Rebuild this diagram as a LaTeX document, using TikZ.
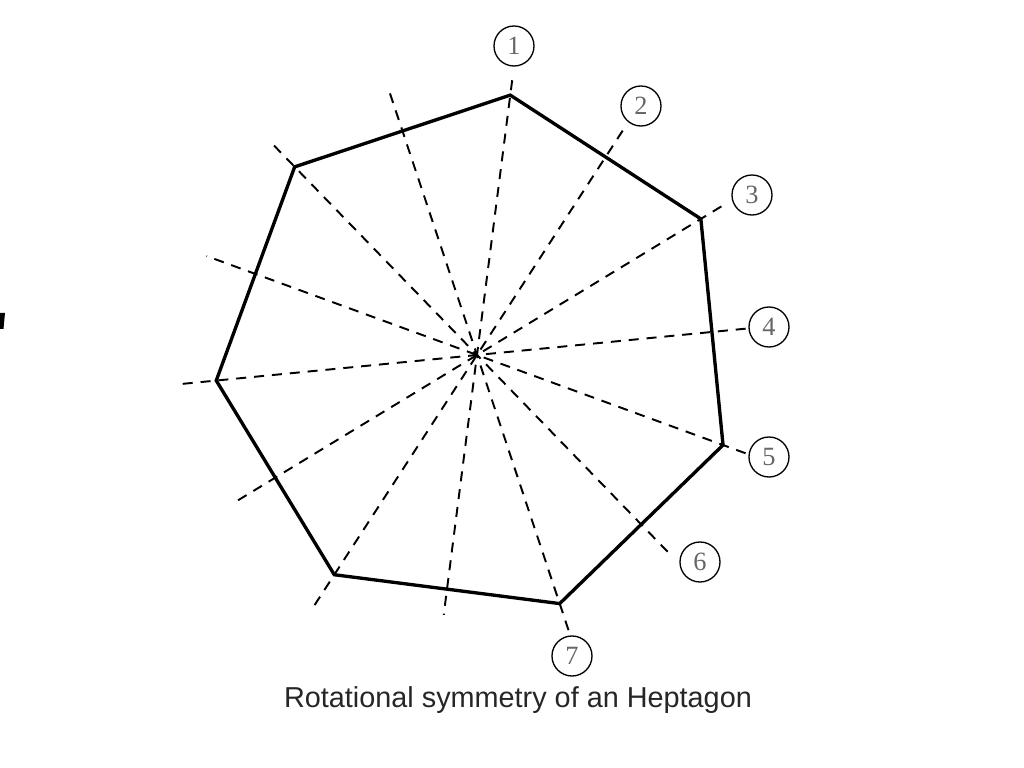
\documentclass[tikz,border=0pt]{standalone}
\usepackage{fontspec}
\setmainfont{Liberation Serif}
\setsansfont{Liberation Sans}
\begin{document}
\begin{tikzpicture}
  \tikzstyle{vertex}=[coordinate]
  \tikzstyle{axisend}=[coordinate]
  \tikzstyle{axisline}=[draw, line width=1.1pt, dash pattern=on 5.7pt off 4.5pt]
  \tikzstyle{rim}=[draw, line width=1.9pt, line join=miter]
  \tikzstyle{numbox}=[circle, draw, line width=0.75pt, minimum size=0.8cm, inner sep=0pt,
                      text=black!60, font=\fontsize{15}{15}\selectfont]
  \useasboundingbox (-9.54,-8.26) rectangle (10.94,7.10);
  \node[vertex] (C) at (0,0) {};
  % heptagon corners
  \node[vertex] (H1) at (82.7:5.24)   {};
  \node[vertex] (H3) at (31.3:5.24)   {};
  \node[vertex] (H5) at (-20.1:5.24)  {};
  \node[vertex] (H7) at (-71.6:5.24)  {};
  \node[vertex] (HA) at (-123.0:5.24) {};
  \node[vertex] (HB) at (-174.4:5.24) {};
  \node[vertex] (HC) at (134.1:5.24)  {};
  % axis ends
  \node[axisend] (O1) at (82.7:5.54)   {};
  \node[axisend] (I1) at (262.7:5.24)  {};
  \node[axisend] (O2) at (57.0:5.35)   {};
  \node[axisend] (I2) at (237.0:6.0)   {};
  \node[axisend] (O3) at (31.3:5.72)   {};
  \node[axisend] (I3) at (211.3:5.64)  {};
  \node[axisend] (O4) at (5.6:5.40)    {};
  \node[axisend] (I4) at (185.6:5.92)  {};
  \node[axisend] (O5) at (-20.1:5.72)  {};
  \node[axisend] (I5) at (159.9:5.76)  {};
  \node[axisend] (O6) at (-45.9:5.48)  {};
  \node[axisend] (I6) at (134.1:5.90)  {};
  \node[axisend] (O7) at (-71.6:5.80)  {};
  \node[axisend] (I7) at (108.4:5.62)  {};
  % axes
  \draw[axisline] (O1) -- (I1);
  \draw[axisline] (O2) -- (I2);
  \draw[axisline] (O3) -- (I3);
  \draw[axisline] (O4) -- (I4);
  \draw[axisline] (O5) -- (I5);
  \draw[axisline] (O6) -- (I6);
  \draw[axisline] (O7) -- (I7);
  % heptagon
  \draw[rim] (H1) -- (H3) -- (H5) -- (H7) -- (HA) -- (HB) -- (HC) -- cycle;
  % labels
  \node[numbox] (L1) at (0.74,6.18)  {1};
  \node[numbox] (L2) at (3.28,4.98)  {2};
  \node[numbox] (L3) at (5.50,3.20)  {3};
  \node[numbox] (L4) at (5.84,0.56)  {4};
  \node[numbox] (L5) at (5.84,-2.04) {5};
  \node[numbox] (L6) at (4.46,-4.14) {6};
  \node[numbox] (L7) at (1.90,-6.02) {7};
  \node[font=\sffamily\fontsize{16.4}{16.4}\selectfont, text=black!85] (caption) at (0.82,-6.90)
    {Rotational symmetry of an Heptagon};
  \fill (-9.54,0.84) -- (-9.44,0.84) -- (-9.47,0.52) -- (-9.54,0.52) -- cycle;
\end{tikzpicture}
\end{document}
